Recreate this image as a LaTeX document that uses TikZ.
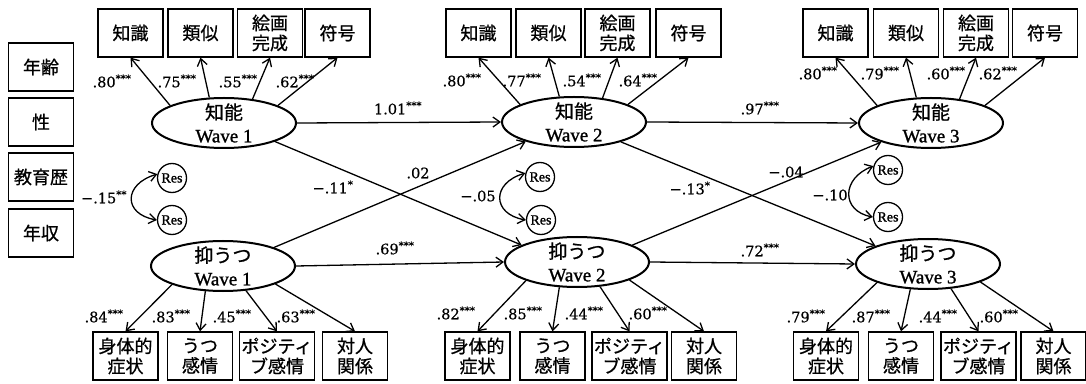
\documentclass[tikz,border=0pt]{standalone}
\usepackage{fontspec}
\setmainfont{Liberation Serif}[FakeBold=0.8]
\newfontfamily\wv{Liberation Serif}[FakeBold=1.2]
\newfontfamily\jp{Noto Sans CJK JP}[FakeBold=0.8]
\newfontfamily\cf{DejaVu Serif}[FakeBold=0.6]
\usetikzlibrary{arrows.meta,shapes.geometric}
\newcommand\sg[1]{\textsuperscript{#1}}
\tikzset{
  obs/.style={draw, line width=1.3pt, rectangle, minimum width=65pt, minimum height=48pt,
    inner sep=1pt, align=center, font=\jp\fontsize{18}{20}\selectfont},
  obsw/.style={obs, minimum width=75pt},
  lat/.style={draw, line width=2pt, ellipse, minimum width=144pt, minimum height=50pt, inner sep=0pt},
  lattext/.style={align=center, inner sep=0pt, font=\wv\fontsize{19}{23}\selectfont},
  res/.style={draw, line width=1.3pt, circle, minimum size=29pt, inner sep=0pt,
    font=\wv\fontsize{14}{14}\selectfont},
  path/.style={line width=1.3pt, -{Straight Barb[length=7pt,width=10pt]}},
  cov/.style={line width=1.3pt, {Straight Barb[length=7pt,width=10pt]}-{Straight Barb[length=7pt,width=10pt]}},
  coef/.style={inner sep=0pt, font=\cf\fontsize{14.5}{14.5}\selectfont},
}
\begin{document}
\begin{tikzpicture}[x=1pt,y=1pt]
\useasboundingbox (0,0) rectangle (1086,383);

% covariates
\node[obs] (age) at (41,316) {年齢};
\node[obs] (sex) at (41,261) {性};
\node[obs] (edu) at (41,206) {教育歴};
\node[obs] (inc) at (41,150) {年収};

% top indicators
\node[obs] (t11) at (130.5,350) {知識};
\node[obs] (t12) at (200.5,350) {類似};
\node[obs] (t13) at (270,350) {絵画\\完成};
\node[obs] (t14) at (337.5,350) {符号};
\node[obs] (t21) at (478.5,350) {知識};
\node[obs] (t22) at (548.5,350) {類似};
\node[obs] (t23) at (617.5,350) {絵画\\完成};
\node[obs] (t24) at (688.5,350) {符号};
\node[obs] (t31) at (835.5,350) {知識};
\node[obs] (t32) at (906,350) {類似};
\node[obs] (t33) at (976,350) {絵画\\完成};
\node[obs] (t34) at (1045,350) {符号};

% bottom indicators
\node[obs]  (b11) at (125.5,27) {身体的\\症状};
\node[obs]  (b12) at (200,27) {うつ\\感情};
\node[obsw] (b13) at (277,27) {ポジティ\\ブ感情};
\node[obs]  (b14) at (355,27) {対人\\関係};
\node[obs]  (b21) at (477.5,27) {身体的\\症状};
\node[obs]  (b22) at (552.5,27) {うつ\\感情};
\node[obsw] (b23) at (629.5,27) {ポジティ\\ブ感情};
\node[obs]  (b24) at (704,27) {対人\\関係};
\node[obs]  (b31) at (826,27) {身体的\\症状};
\node[obs]  (b32) at (901,27) {うつ\\感情};
\node[obsw] (b33) at (978.5,27) {ポジティ\\ブ感情};
\node[obs]  (b34) at (1053.5,27) {対人\\関係};

% latent variables
\node[lat] (k1) at (224,260) {};
\node[lat] (k2) at (574,261) {};
\node[lat] (k3) at (931,260) {};
\node[lat] (d1) at (223,117) {};
\node[lat] (d2) at (577,121) {};
\node[lat] (d3) at (928,119) {};
\node[lattext] (k1t) at (k1) {{\jp 知能}\\Wave 1};
\node[lattext] (k2t) at (k2) {{\jp 知能}\\Wave 2};
\node[lattext] (k3t) at (k3) {{\jp 知能}\\Wave 3};
\node[lattext] (d1t) at (d1) {{\jp 抑うつ}\\Wave 1};
\node[lattext] (d2t) at (d2) {{\jp 抑うつ}\\Wave 2};
\node[lattext] (d3t) at (d3) {{\jp 抑うつ}\\Wave 3};

% residuals
\node[res] (r1a) at (172,205) {Res};
\node[res] (r1b) at (172,163) {Res};
\node[res] (r2a) at (540,206) {Res};
\node[res] (r2b) at (541,163) {Res};
\node[res] (r3a) at (888,213) {Res};
\node[res] (r3b) at (888,166) {Res};

% loadings
\foreach \w in {1,2,3}{
  \draw[path] (k\w.162) -- (t\w1.south);
  \draw[path] (k\w.120) -- (t\w2.south);
  \draw[path] (k\w.40)  -- (t\w3.south);
  \draw[path] (k\w.18)  -- (t\w4.south);
  \draw[path] (d\w.200) -- (b\w1.north);
  \draw[path] (d\w.235) -- (b\w2.north);
  \draw[path] (d\w.313) -- (b\w3.north);
  \draw[path] (d\w.341) -- (b\w4.north);
}

% structural paths
\draw[path] (k1.east) -- (k2.west);
\draw[path] (k2.east) -- (k3.west);
\draw[path] (d1.east) -- (d2.west);
\draw[path] (d2.east) -- (d3.west);
\draw[path] (k1.340) -- (d2.163);
\draw[path] (d1.20) -- (k2.202);
\draw[path] (k2.337) -- (d3.161);
\draw[path] (d2.17) -- (k3.201);

% residual covariances
\draw[cov] (r1a.165) .. controls +(-34,-10) and +(-34,6) .. (r1b.180);
\draw[cov] (r2a.165) .. controls +(-34,-10) and +(-34,6) .. (r2b.180);
\draw[cov] (r3a.165) .. controls +(-32,-12) and +(-32,6) .. (r3b.180);

% coefficient labels
\node[coef] (c1) at (398,275) {1.01\sg{***}};
\node[coef] (c2) at (760,275) {.97\sg{***}};
\node[coef] (c3) at (395,135) {.69\sg{***}};
\node[coef] (c4) at (760,133) {.72\sg{***}};
\node[coef] (c5) at (333,196) {−.11\sg{*}};
\node[coef] (c6) at (418,210) {.02};
\node[coef] (c7) at (690,195) {−.13\sg{*}};
\node[coef] (c8) at (786,211) {−.04};
\node[coef] (c9) at (104,186) {−.15\sg{**}};
\node[coef] (c10) at (478,187) {−.05};
\node[coef] (c11) at (830,188) {−.10};

\node[coef] (u11) at (112,302) {.80\sg{***}};
\node[coef] (u12) at (177,302) {.75\sg{***}};
\node[coef] (u13) at (238,302) {.55\sg{***}};
\node[coef] (u14) at (295,302) {.62\sg{***}};
\node[coef] (u21) at (462,303) {.80\sg{***}};
\node[coef] (u22) at (522,303) {.77\sg{***}};
\node[coef] (u23) at (582,303) {.54\sg{***}};
\node[coef] (u24) at (638,303) {.64\sg{***}};
\node[coef] (u31) at (818,310) {.80\sg{***}};
\node[coef] (u32) at (880,310) {.79\sg{***}};
\node[coef] (u33) at (946,310) {.60\sg{***}};
\node[coef] (u34) at (998,310) {.62\sg{***}};

\node[coef] (v11) at (104,67) {.84\sg{***}};
\node[coef] (v12) at (171,67) {.83\sg{***}};
\node[coef] (v13) at (232,67) {.45\sg{***}};
\node[coef] (v14) at (296,67) {.63\sg{***}};
\node[coef] (v21) at (456,70) {.82\sg{***}};
\node[coef] (v22) at (523,70) {.85\sg{***}};
\node[coef] (v23) at (584,70) {.44\sg{***}};
\node[coef] (v24) at (648,70) {.60\sg{***}};
\node[coef] (v31) at (806,67) {.79\sg{***}};
\node[coef] (v32) at (871,67) {.87\sg{***}};
\node[coef] (v33) at (938,67) {.44\sg{***}};
\node[coef] (v34) at (999,67) {.60\sg{***}};
\end{tikzpicture}
\end{document}
